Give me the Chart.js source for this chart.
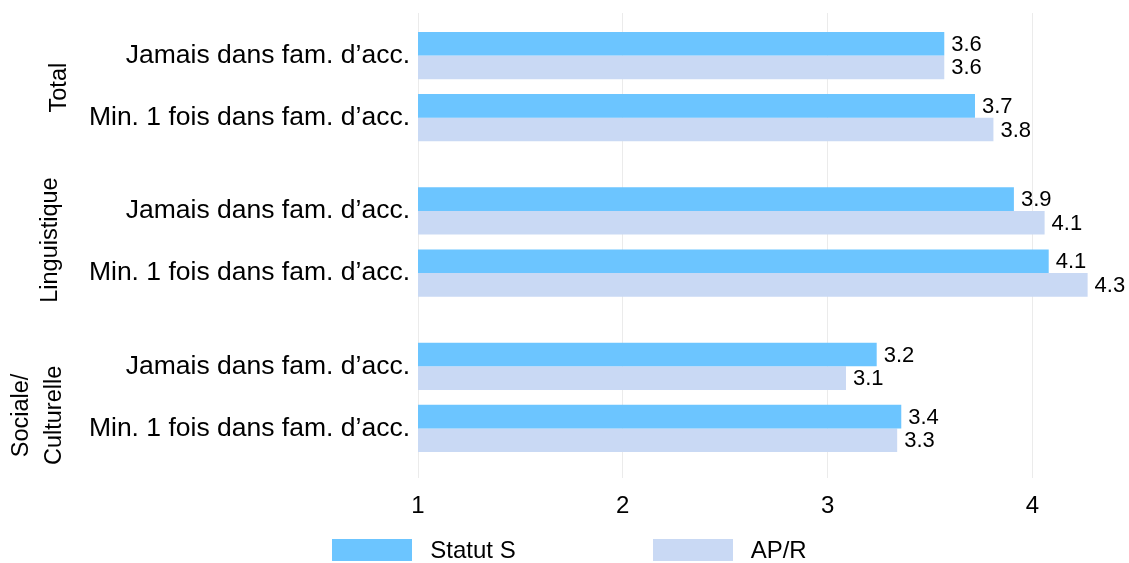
<!DOCTYPE html>
<html lang="fr">
<head>
<meta charset="utf-8">
<title>Moyennes par domaine</title>
<script src="https://cdn.jsdelivr.net/npm/chart.js@4/dist/chart.umd.min.js"></script>
<style>
  html, body { margin: 0; padding: 0; background: #fff; }
  #wrap { position: relative; width: 1129px; height: 563px; }
  #legend {
    position: absolute; top: 539px; left: 5px; width: 1129px;
    display: flex; justify-content: center; gap: 137px;
    font-family: "Liberation Sans", Arial, sans-serif; font-size: 24px; color: #000;
  }
  #legend .item { display: flex; align-items: center; height: 22px; }
  #legend .box { width: 80px; height: 22px; margin-right: 18px; }
</style>
</head>
<body>
<div id="wrap">
  <canvas id="chart" width="1129" height="563"></canvas>
  <div id="legend"></div>
</div>
<script>
const FONT = '"Liberation Sans", Arial, sans-serif';

// rows of the chart, top to bottom
const categories = [
  'Jamais dans fam. d\u2019acc.', 'Min. 1 fois dans fam. d\u2019acc.',
  'Jamais dans fam. d\u2019acc.', 'Min. 1 fois dans fam. d\u2019acc.',
  'Jamais dans fam. d\u2019acc.', 'Min. 1 fois dans fam. d\u2019acc.'
];
// row positions on the y axis (gap of half a row between domains)
const rowPos = [0, 1, 2.5, 3.5, 5, 6];
const groups = [['Total'], ['Linguistique'], ['Sociale/', 'Culturelle']];
const seriesNames = ['Statut S', 'AP/R'];
const statutS = [3.57, 3.72, 3.91, 4.08, 3.24, 3.36];
const apr = [3.57, 3.81, 4.06, 4.27, 3.09, 3.34];
const xTicks = [1, 2, 3, 4];

const colors = ['#6cc5ff', '#c9d9f4'];

// where each domain label sits (baseline x of each line, vertical shift)
const groupPlacement = [
  { x: [66], dy: 1 },
  { x: [57], dy: -2 },
  { x: [28, 61], dy: 18 }
];

const valueLabels = {
  id: 'valueLabels',
  afterDatasetsDraw(chart) {
    const ctx = chart.ctx;
    ctx.save();
    ctx.font = '22px ' + FONT;
    ctx.fillStyle = '#000';
    ctx.textAlign = 'left';
    ctx.textBaseline = 'middle';
    chart.data.datasets.forEach((ds, i) => {
      chart.getDatasetMeta(i).data.forEach((bar, j) => {
        ctx.fillText(ds.data[j].x.toFixed(1), bar.x + 7, bar.y + 1);
      });
    });
    ctx.restore();
  }
};

const groupLabels = {
  id: 'groupLabels',
  afterDraw(chart) {
    const ctx = chart.ctx;
    const y = chart.scales.y;
    ctx.save();
    ctx.font = '23.5px ' + FONT;
    ctx.fillStyle = '#000';
    ctx.textAlign = 'center';
    ctx.textBaseline = 'alphabetic';
    groups.forEach((lines, g) => {
      const mid = (y.getPixelForValue(rowPos[g * 2]) + y.getPixelForValue(rowPos[g * 2 + 1])) / 2;
      const place = groupPlacement[g];
      lines.forEach((line, k) => {
        ctx.save();
        ctx.translate(place.x[k], mid + place.dy);
        ctx.rotate(-Math.PI / 2);
        ctx.fillText(line, 0, 0);
        ctx.restore();
      });
    });
    ctx.restore();
  }
};

const toPoints = vals => vals.map((v, i) => ({ x: v, y: rowPos[i] }));

const chart = new Chart(document.getElementById('chart'), {
  type: 'bar',
  data: {
    datasets: [
      { label: seriesNames[0], data: toPoints(statutS), backgroundColor: colors[0] },
      { label: seriesNames[1], data: toPoints(apr), backgroundColor: colors[1] }
    ]
  },
  options: {
    indexAxis: 'y',
    responsive: false,
    animation: false,
    devicePixelRatio: 1,
    categoryPercentage: 0.76,
    barPercentage: 1,
    layout: { padding: { top: 13, right: 25, bottom: 28, left: 0 } },
    plugins: {
      legend: { display: false },
      tooltip: { enabled: false }
    },
    scales: {
      x: {
        type: 'linear',
        min: 1,
        max: 4.35,
        offset: false,
        afterBuildTicks: scale => { scale.ticks = xTicks.map(v => ({ value: v })); },
        grid: { color: '#ebebeb', drawTicks: false },
        border: { display: false },
        ticks: { padding: 14, color: '#000', font: { family: FONT, size: 24 } }
      },
      y: {
        type: 'linear',
        reverse: true,
        offset: false,
        min: -0.685,
        max: 6.8,
        afterBuildTicks: scale => { scale.ticks = rowPos.map(v => ({ value: v })); },
        afterFit: scale => {
          scale.width = 418;
          // rows sit well inside the plot, no room needed for label overhang
          scale.paddingTop = 0;
          scale.paddingBottom = 0;
        },
        grid: { display: false, drawTicks: false, offset: false },
        border: { display: false },
        ticks: {
          autoSkip: false,
          padding: 8,
          color: '#000',
          font: { family: FONT, size: 26.5 },
          callback: (v, i) => categories[i]
        }
      }
    }
  },
  plugins: [valueLabels, groupLabels]
});

// legend under the plot
const legend = document.getElementById('legend');
chart.data.datasets.forEach(ds => {
  const item = document.createElement('div');
  item.className = 'item';
  const box = document.createElement('span');
  box.className = 'box';
  box.style.background = ds.backgroundColor;
  const text = document.createElement('span');
  text.textContent = ds.label;
  item.appendChild(box);
  item.appendChild(text);
  legend.appendChild(item);
});
</script>
</body>
</html>
